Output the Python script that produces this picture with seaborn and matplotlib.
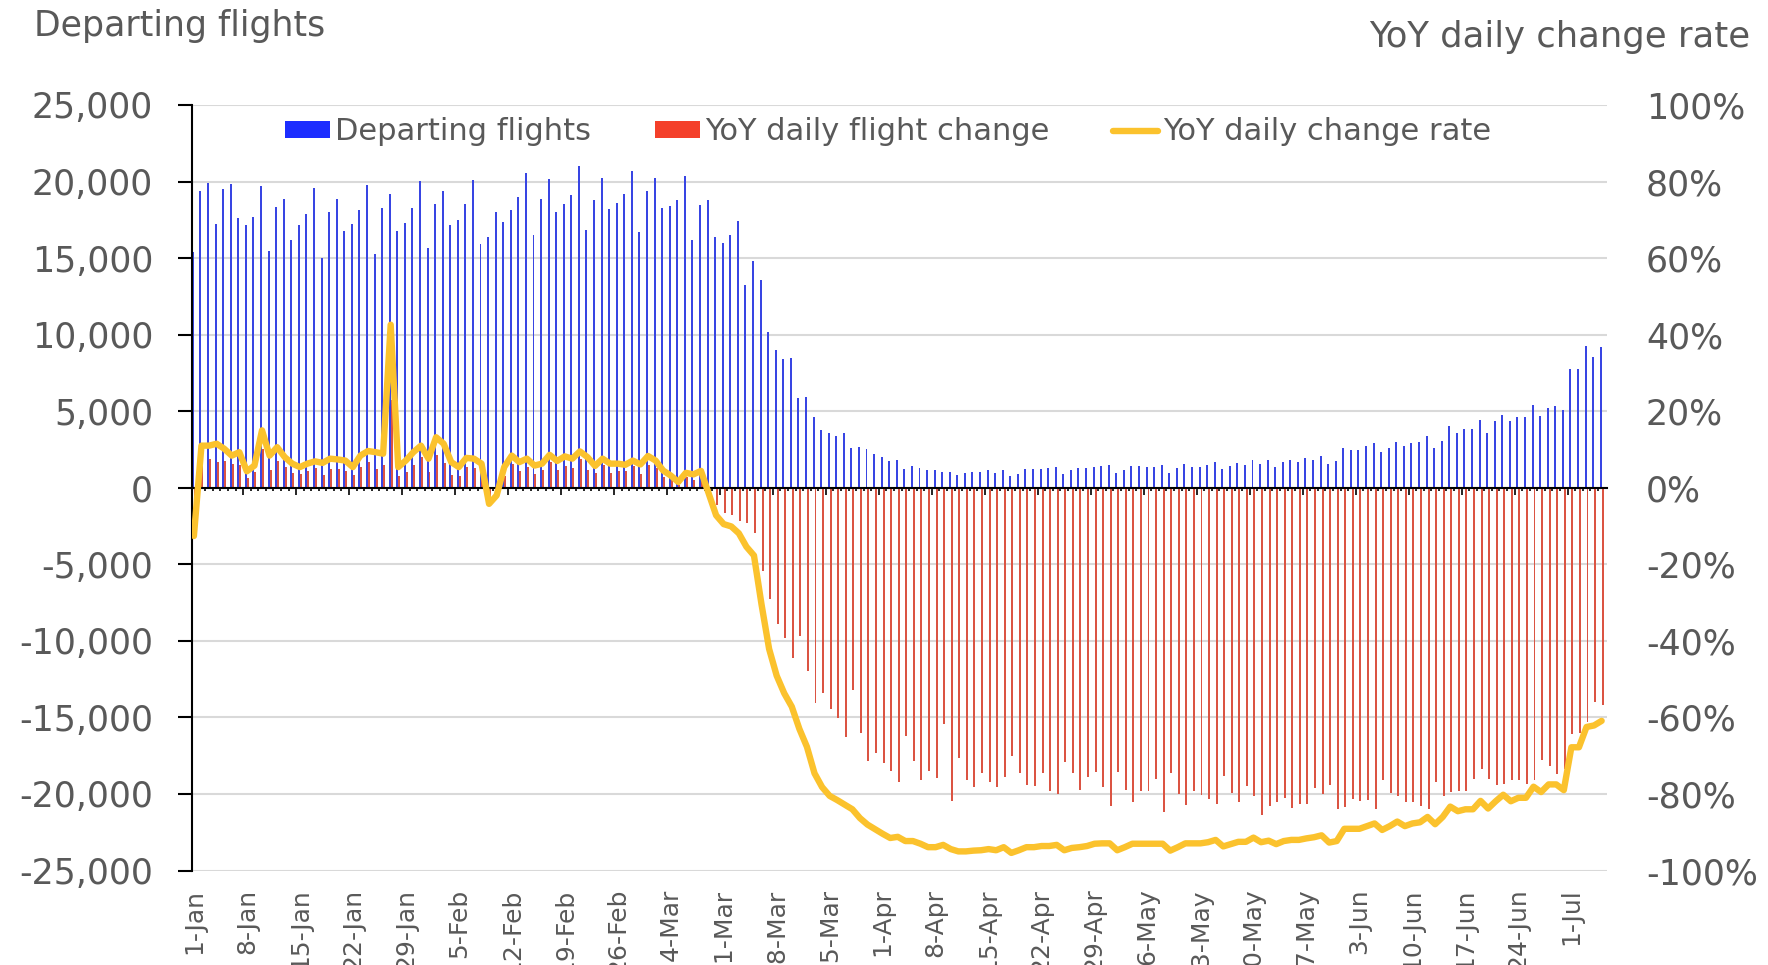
import numpy as np
import pandas as pd
import matplotlib
matplotlib.use("Agg")
import matplotlib.pyplot as plt
import matplotlib.ticker as mticker
from matplotlib.patches import Patch
from matplotlib.lines import Line2D
import seaborn as sns

OUT_FILE = "out.png"

# weekly labels, one every 7 days starting 1-Jan
TICK_LABELS = ["1-Jan", "8-Jan", "15-Jan", "22-Jan", "29-Jan", "5-Feb", "12-Feb",
               "19-Feb", "26-Feb", "4-Mar", "11-Mar", "18-Mar", "25-Mar", "1-Apr",
               "8-Apr", "15-Apr", "22-Apr", "29-Apr", "6-May", "13-May", "20-May",
               "27-May", "3-Jun", "10-Jun", "17-Jun", "24-Jun", "1-Jul"]

# daily values, 1-Jan .. 5-Jul
DEPARTING = [
    15370, 19350, 19900, 17220, 19500, 19870, 17610, 17150, 17670, 19720,
    15480, 18350, 18870, 16170, 17150, 17910, 19570, 15020, 17980, 18870,
    16760, 17220, 18130, 19780, 15240, 18260, 19200, 16760, 17300, 18260,
    20020, 15630, 18520, 19410, 17130, 17520, 18520, 20090, 15910, 16390,
    17980, 17370, 18130, 18980, 20540, 16520, 18870, 20170, 17980, 18520,
    19130, 21000, 16850, 18800, 20240, 18220, 18590, 19200, 20700, 16700,
    19350, 20240, 18260, 18410, 18800, 20330, 16200, 18500, 18800, 16370,
    15960, 16480, 17410, 13230, 14830, 13550, 10150, 9010, 8400, 8490,
    5840, 5900, 4590, 3780, 3550, 3400, 3550, 2590, 2650, 2500,
    2180, 1980, 1740, 1800, 1220, 1450, 1280, 1130, 1130, 1050,
    1050, 810, 960, 1050, 1050, 1130, 960, 1190, 760, 900,
    1220, 1220, 1220, 1280, 1340, 900, 1130, 1280, 1280, 1340,
    1450, 1510, 960, 1190, 1450, 1450, 1340, 1340, 1510, 960,
    1280, 1570, 1340, 1340, 1480, 1710, 1200, 1400, 1630, 1500,
    1790, 1570, 1790, 1340, 1690, 1840, 1690, 1930, 1840, 2050,
    1550, 1760, 2610, 2460, 2460, 2700, 2900, 2320, 2610, 2970,
    2700, 2920, 2970, 3380, 2610, 3070, 4060, 3570, 3820, 3820,
    4420, 3570, 4350, 4780, 4350, 4640, 4590, 5390, 4660, 5240,
    5340, 5050, 7780, 7780, 9270, 8530, 9200,
]

YOY_CHANGE = [
    -2200, 1900, 1850, 1700, 1760, 1540, 1460, 630, 1000, 2540,
    1150, 1760, 1330, 935, 870, 1065, 1260, 850, 1240, 1240,
    1065, 850, 1330, 1700, 1240, 1460, 5760, 800, 1000, 1460,
    2000, 1000, 2150, 1600, 850, 800, 1350, 1300, 1150, -620,
    -330, 800, 1565, 1065, 1350, 910, 1130, 1670, 1130, 1390,
    1300, 1850, 1130, 960, 1460, 980, 1065, 1065, 1410, 910,
    1460, 1300, 700, 630, 200, 700, 480, 700, -270, -1100,
    -1660, -1800, -2150, -2330, -2970, -5440, -7240, -8920, -9800, -11100,
    -9710, -11980, -14070, -13430, -14480, -15030, -16250, -13200, -16050, -17850,
    -17350, -17970, -18520, -19190, -16190, -17850, -19100, -18520, -18950, -15440,
    -20470, -17670, -19100, -19540, -18600, -19190, -19540, -18890, -17500, -18660,
    -19390, -19450, -18660, -19830, -20000, -17940, -18660, -19710, -18860, -18550,
    -19540, -20760, -18570, -19770, -20550, -19830, -19830, -19010, -21160, -18660,
    -20030, -20700, -19830, -20060, -20340, -20650, -18800, -19920, -20540, -19490,
    -20160, -21400, -20800, -20500, -20240, -20890, -20650, -20650, -19610, -19970,
    -19440, -21010, -20820, -20330, -20450, -20410, -20960, -19080, -19920, -20160,
    -20530, -20530, -20770, -21010, -19200, -20160, -19880, -19800, -19800, -19030,
    -18350, -19030, -19440, -19320, -19080, -19080, -19320, -19080, -17750, -18160,
    -18670, -18350, -16060, -15990, -15330, -14010, -14200,
]

# percent
YOY_RATE = [
    -12.6, 11.0, 11.0, 11.5, 10.2, 8.4, 9.3, 4.3, 5.8, 15.0,
    8.4, 10.6, 8.0, 6.3, 5.4, 6.3, 6.9, 6.5, 7.6, 7.4,
    7.1, 5.4, 8.4, 9.6, 9.3, 8.9, 42.6, 5.4, 7.1, 9.3,
    11.0, 7.6, 13.2, 11.5, 6.7, 5.4, 7.8, 7.6, 6.3, -4.2,
    -2.0, 5.4, 8.4, 6.7, 7.6, 5.8, 6.3, 8.6, 7.0, 8.2,
    7.6, 9.5, 8.0, 5.7, 7.6, 6.3, 6.3, 6.0, 7.1, 6.1,
    8.3, 7.1, 4.5, 3.2, 1.5, 3.9, 3.5, 4.4, -1.4, -7.2,
    -9.5, -10.1, -11.9, -15.4, -17.7, -30.5, -42.1, -49.1, -53.7, -57.2,
    -63.0, -67.7, -74.6, -78.2, -80.5, -81.6, -82.8, -84.0, -86.3, -88.0,
    -89.2, -90.4, -91.5, -91.2, -92.3, -92.3, -93.0, -93.9, -93.9, -93.3,
    -94.4, -95.0, -95.0, -94.8, -94.7, -94.4, -94.7, -93.9, -95.4, -94.7,
    -93.9, -93.9, -93.6, -93.6, -93.3, -94.7, -94.1, -93.9, -93.6, -93.0,
    -92.9, -92.9, -94.7, -93.9, -93.0, -93.0, -93.0, -93.0, -93.0, -94.8,
    -93.9, -92.9, -92.9, -92.9, -92.6, -92.0, -93.7, -93.1, -92.5, -92.5,
    -91.4, -92.6, -92.2, -93.1, -92.3, -92.0, -92.0, -91.6, -91.3, -90.8,
    -92.7, -92.3, -89.1, -89.1, -89.1, -88.4, -87.7, -89.4, -88.4, -87.2,
    -88.4, -87.7, -87.4, -86.0, -87.9, -86.0, -83.3, -84.5, -84.0, -84.0,
    -81.8, -83.8, -81.9, -80.2, -81.9, -81.0, -81.0, -78.1, -79.5, -77.5,
    -77.5, -79.0, -67.8, -67.8, -62.5, -62.1, -60.9,
]

SERIES = ["Departing flights", "YoY daily flight change", "YoY daily change rate"]

BLUE = "#1c2dff"
RED = "#f4402a"
GOLD = "#fbc22d"
TEXT = "#595959"
GRID = "#d9d9d9"


def build_frame():
    n = len(DEPARTING)
    days = np.arange(n)
    df = pd.DataFrame({
        "day": np.concatenate([days, days]),
        "value": DEPARTING + YOY_CHANGE,
        "series": [SERIES[0]] * n + [SERIES[1]] * n,
    })
    return df


def pct_label(v, pos):
    p = int(round(v * 100))
    return f"{p}%"


def main():
    assert len(DEPARTING) == len(YOY_CHANGE) == len(YOY_RATE) == 187
    sns.set_theme(style="white")
    plt.rcParams["font.family"] = ["DejaVu Sans"]
    plt.rcParams["axes.unicode_minus"] = False

    fig = plt.figure(figsize=(17.68, 9.65), dpi=100)
    ax = fig.add_axes([0.1086, 0.0979, 0.8003, 0.7933])

    df = build_frame()
    sns.barplot(data=df, x="day", y="value", hue="series", hue_order=SERIES[:2],
                palette=[BLUE, RED], width=0.52, errorbar=None, linewidth=0,
                legend=False, ax=ax)

    # left axis
    ax.set_ylim(-25000, 25000)
    ax.set_yticks(np.arange(-25000, 25001, 5000))
    ax.yaxis.set_major_formatter(mticker.FuncFormatter(lambda v, p: f"{int(v):,}"))
    ax.yaxis.grid(True, color=GRID, linewidth=1.5)
    ax.xaxis.grid(False)
    ax.set_axisbelow(True)
    ax.set_xlabel("")
    ax.set_ylabel("")
    for s in ["top", "right"]:
        ax.spines[s].set_visible(False)
    ax.spines["left"].set_color("black")
    ax.spines["left"].set_linewidth(1.5)
    ax.spines["bottom"].set_position(("data", 0))
    ax.spines["bottom"].set_color("black")
    ax.spines["bottom"].set_linewidth(1.5)
    ax.tick_params(axis="y", left=True, direction="out", length=10, width=1.5,
                   color="black", pad=18, labelsize=25, labelcolor=TEXT)

    # small tick marks along the zero line, day boundaries
    ax.set_xticks(np.arange(6.5, 187, 7))
    ax.set_xticks(np.arange(0.5, 186, 1), minor=True)
    ax.tick_params(axis="x", which="both", bottom=True, labelbottom=False,
                   direction="out", color="black", width=1.2)
    ax.tick_params(axis="x", which="major", length=5)
    ax.tick_params(axis="x", which="minor", length=2.5)

    # date labels at the bottom of the plot
    sec = ax.secondary_xaxis("bottom")
    sec.set_xticks(np.arange(0, 183, 7), labels=TICK_LABELS)
    sec.tick_params(axis="x", length=0, pad=13, labelsize=18, labelcolor=TEXT,
                    labelrotation=90)
    for s in sec.spines.values():
        s.set_visible(False)

    # right axis, change rate
    ax2 = ax.twinx()
    days = np.arange(len(YOY_RATE))
    sns.lineplot(x=days, y=np.array(YOY_RATE) / 100, color=GOLD, linewidth=4.6,
                 solid_joinstyle="round", solid_capstyle="round", ax=ax2)
    ax2.set_ylim(-1, 1)
    ax2.set_yticks(np.arange(-1, 1.01, 0.2))
    ax2.yaxis.set_major_formatter(mticker.FuncFormatter(pct_label))
    ax2.tick_params(axis="y", right=True, length=0, pad=28, labelsize=25,
                    labelcolor=TEXT)
    ax2.grid(False)
    ax2.set_ylabel("")
    for s in ax2.spines.values():
        s.set_visible(False)

    ax.set_xlim(-0.25, 186.7)

    fig.text(34 / 1768, 1 - 26 / 965, "Departing flights", ha="left", va="center",
             fontsize=25, color=TEXT)
    fig.text(1750 / 1768, 1 - 37 / 965, "YoY daily change rate", ha="right",
             va="center", fontsize=25.5, color=TEXT)

    handles = [Patch(facecolor=BLUE, edgecolor="none"),
               Patch(facecolor=RED, edgecolor="none"),
               Line2D([0], [0], color=GOLD, linewidth=4.6)]
    fig.legend(handles, SERIES, loc="center left",
               bbox_to_anchor=(285 / 1768, 1 - 132 / 965), ncol=3, frameon=False,
               fontsize=22, handlelength=1.47, handleheight=0.45,
               handletextpad=0.16, columnspacing=2.1, borderpad=0,
               borderaxespad=0, labelcolor=TEXT)

    fig.savefig(OUT_FILE, dpi=100)
    plt.close(fig)
    print("Saved", OUT_FILE)


if __name__ == "__main__":
    main()
